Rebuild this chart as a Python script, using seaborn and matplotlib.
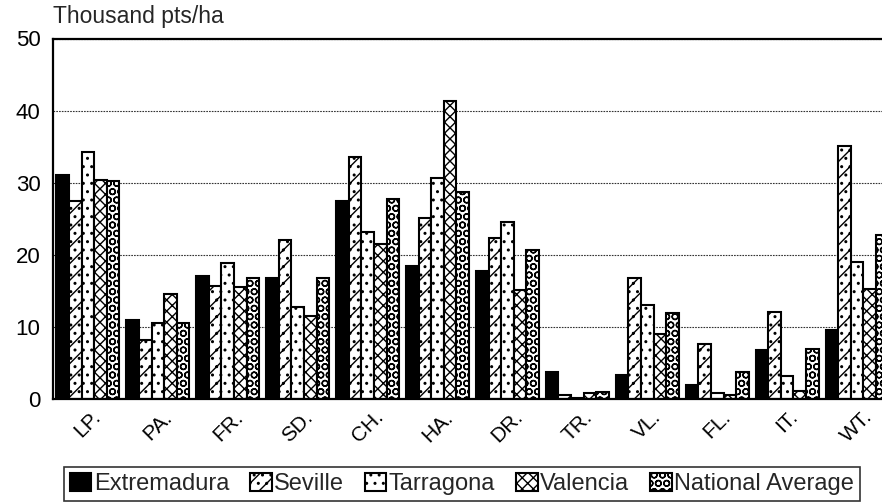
import numpy as np
import pandas as pd
import matplotlib
matplotlib.use("Agg")
import matplotlib.pyplot as plt
import seaborn as sns

# regions (x-axis categories)
regions = ["LP.", "PA.", "FR.", "SD.", "CH.", "HA.", "DR.", "TR.", "VL.", "FL.", "IT.", "WT."]

# thousand pts/ha
extremadura = [31.1, 10.9, 17.1, 16.8, 27.5, 18.4, 17.7, 3.7, 3.3, 1.9, 6.8, 9.6]
seville = [27.4, 8.2, 15.7, 22.0, 33.5, 25.1, 22.3, 0.6, 16.8, 7.6, 12.1, 35.1]
tarragona = [34.2, 10.6, 18.8, 12.7, 23.2, 30.6, 24.5, 0.1, 13.1, 0.9, 3.2, 19.0]
valencia = [30.4, 14.5, 15.6, 11.5, 21.5, 41.4, 15.1, 0.9, 9.0, 0.5, 1.1, 15.2]
national = [30.3, 10.5, 16.8, 16.8, 27.7, 28.7, 20.6, 1.0, 11.9, 3.7, 7.0, 22.8]

series_names = ["Extremadura", "Seville", "Tarragona", "Valencia", "National Average"]
series_values = [extremadura, seville, tarragona, valencia, national]

df = pd.DataFrame({
    "region": np.tile(regions, len(series_names)),
    "series": np.repeat(series_names, len(regions)),
    "value": np.concatenate(series_values),
})

sns.set_theme(style="white")
plt.rcParams["font.family"] = ["Liberation Sans", "DejaVu Sans"]
plt.rcParams["hatch.linewidth"] = 1.0
plt.rcParams["hatch.color"] = "black"

fig = plt.figure(figsize=(8.82, 5.04), dpi=100)
ax = fig.add_axes([53 / 882, (504 - 399) / 504, (892 - 53) / 882, (399 - 38.5) / 504])

palette = ["black", "white", "white", "white", "white"]
sns.barplot(data=df, x="region", y="value", hue="series", hue_order=series_names,
            order=regions, palette=palette, width=0.9, edgecolor="black",
            linewidth=1.5, saturation=1, ax=ax, legend=True)

# fill patterns: solid, dashes+dots, dots, crosses, circles
hatches = ["", "//..", "..", "xxx", "OO"]
for cont, h in zip(ax.containers, hatches):
    for bar in cont:
        bar.set_hatch(h)

ax.set_xlim(-0.5, 11.5)
ax.set_ylim(0, 50)
ax.set_yticks([0, 10, 20, 30, 40, 50])
ax.set_xlabel("")
ax.set_ylabel("")
ax.tick_params(axis="both", length=0, labelsize=16, colors="black")
ax.tick_params(axis="y", pad=9)
ax.tick_params(axis="x", pad=6)
for lab in ax.get_xticklabels():
    lab.set_rotation(45)
    lab.set_ha("center")
    lab.set_fontsize(15)
ax.yaxis.grid(True, linestyle=(0, (1.5, 1)), color="#333333", linewidth=0.8)
ax.set_axisbelow(True)
for s in ax.spines.values():
    s.set_color("black")
    s.set_linewidth(1.6)

fig.text(53 / 882, 1 - 17 / 504, "Thousand pts/ha", fontsize=16.5, va="center", ha="left")

handles, labels = ax.get_legend_handles_labels()
ax.legend_.remove()
for hd, h in zip(handles, hatches):
    hd.set_hatch(h)
leg = fig.legend(handles, labels, loc="center", ncol=5,
                 bbox_to_anchor=(462 / 882, 1 - 484 / 504), fontsize=17,
                 frameon=True, fancybox=False, edgecolor="black",
                 handlelength=0.9, handleheight=0.8, handletextpad=0.1,
                 columnspacing=0.9, borderpad=0.25, borderaxespad=0)
leg.get_frame().set_linewidth(1.2)

fig.savefig("out.png", dpi=100)
